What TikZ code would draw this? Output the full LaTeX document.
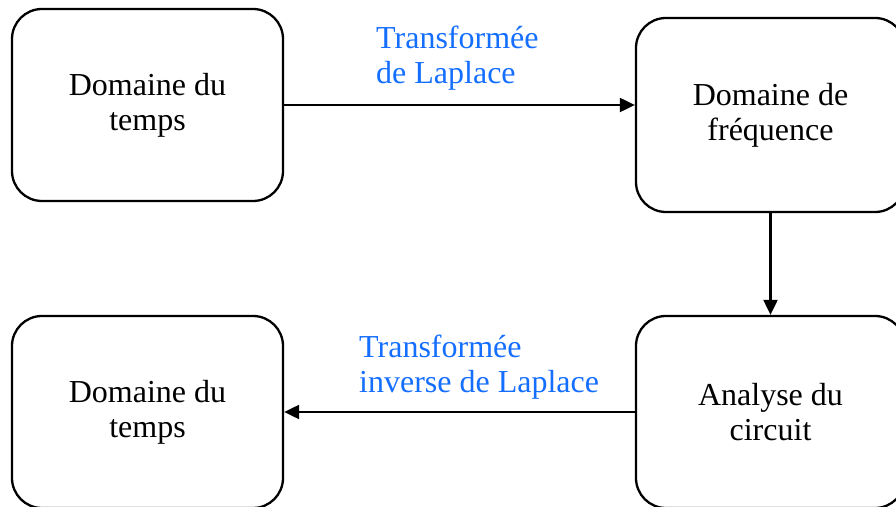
\documentclass[tikz,border=0pt]{standalone}
\usepackage{fontspec}
\setmainfont{Liberation Serif}
\usetikzlibrary{arrows.meta}
\definecolor{lblue}{RGB}{20,110,255}
\tikzset{
  blk/.style={draw, line width=2.3pt, rounded corners=30pt, align=center,
    font=\fontsize{32}{35}\selectfont, inner sep=0pt},
  lbl/.style={text=lblue, align=left, anchor=north west, inner sep=0pt,
    font=\fontsize{32}{35}\selectfont},
  conn/.style={line width=2.1pt, -{Triangle[length=15pt,width=14pt]}}
}
\begin{document}
\begin{tikzpicture}[x=1pt,y=1pt]
\useasboundingbox (0,0) rectangle (896,506);
\clip (0,0) rectangle (896,506);
\node[blk, minimum width=271pt, minimum height=192pt] (tl) at (147.5,401) {Domaine du\\temps};
\node[blk, minimum width=269pt, minimum height=194pt] (tr) at (770.5,391) {Domaine de\\fréquence};
\node[blk, minimum width=271pt, minimum height=192pt] (bl) at (147.5,94) {Domaine du\\temps};
\node[blk, minimum width=269pt, minimum height=192pt] (br) at (770.5,94) {Analyse du\\circuit};
\draw[conn] (tl.east) -- (tl.east -| tr.west);
\draw[conn] (tr.south) -- (br.north);
\draw[conn] (br.west) -- (bl.east);
\node[lbl] (l1) at (376,480) {Transformée\\de Laplace};
\node[lbl] (l2) at (359,171) {Transformée\\inverse de Laplace};
\end{tikzpicture}
\end{document}
